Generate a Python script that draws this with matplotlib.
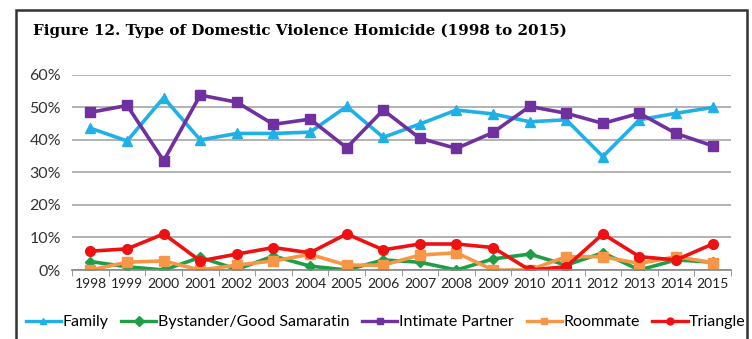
import numpy as np
import matplotlib.pyplot as plt
from matplotlib.patches import Rectangle
from matplotlib.ticker import FixedLocator

years = [str(y) for y in range(1998, 2016)]

family = [43.6, 39.7, 53.0, 40.0, 42.0, 42.0, 42.4, 50.3, 40.8, 44.9,
          49.2, 48.0, 45.6, 46.2, 34.9, 46.2, 48.2, 50.0]
bystander = [2.6, 1.0, 0.0, 3.9, 0.2, 4.3, 1.2, 0.0, 3.1, 2.4,
             0.0, 3.4, 4.9, 1.5, 5.3, 0.0, 3.1, 2.4]
intimate = [48.5, 50.6, 33.6, 53.8, 51.6, 44.8, 46.4, 37.6, 49.2, 40.5,
            37.4, 42.3, 50.3, 48.2, 45.1, 48.2, 42.0, 38.2]
roommate = [0.0, 2.4, 2.8, 0.0, 1.5, 2.8, 4.8, 1.5, 1.5, 4.6,
            5.3, 0.0, 0.0, 4.1, 4.1, 2.0, 4.1, 2.3]
triangle = [5.8, 6.5, 11.1, 2.8, 4.9, 6.9, 5.3, 11.1, 6.2, 8.0,
            8.0, 6.9, 0.0, 1.0, 11.1, 4.1, 3.1, 8.0]

series = [
    ('Family', family, '#1fb1e6', '^', 7),
    ('Bystander/Good Samaratin', bystander, '#1f9e48', 'D', 5),
    ('Intimate Partner', intimate, '#7030a0', 's', 7),
    ('Roommate', roommate, '#f79646', 's', 7),
    ('Triangle', triangle, '#ee1111', 'o', 7),
]

fig = plt.figure(figsize=(7.52, 3.39), dpi=100)
ax = fig.add_axes([0.096, 0.2035, 0.876, 0.5755])

x = np.arange(len(years))
for name, vals, col, mk, ms in series:
    ax.plot(x, vals, color=col, marker=mk, markersize=ms, lw=2.6, label=name)

ax.set_xlim(-0.5, len(years) - 0.5)
ax.set_ylim(0, 60)
ax.set_yticks(range(0, 61, 10))
ax.set_yticklabels([f'{v}%' for v in range(0, 61, 10)])
ax.set_xticks(x)
ax.set_xticklabels(years)
ax.xaxis.set_minor_locator(FixedLocator(np.arange(-0.5, len(years), 1)))
ax.tick_params(axis='x', which='major', length=0, pad=6, labelsize=10, colors='#222222')
ax.tick_params(axis='x', which='minor', length=4, color='#888888')
ax.tick_params(axis='y', length=0, pad=8, labelsize=11.5, colors='#333333')
ax.yaxis.grid(True, color='#a6a6a6', lw=1.2)
ax.set_axisbelow(True)
for s in ['left', 'right', 'top']:
    ax.spines[s].set_visible(False)
ax.spines['bottom'].set_color('#888888')
ax.spines['bottom'].set_linewidth(1.2)
for lab in ax.get_xticklabels() + ax.get_yticklabels():
    lab.set_family('Lato')

leg = fig.legend(loc='center', bbox_to_anchor=(0.513, 0.05), ncol=5, frameon=False,
                 handlelength=2.2, handletextpad=0.1, columnspacing=0.8,
                 prop={'family': 'Lato', 'size': 11.5})
for h in leg.legend_handles:
    h.set_markersize(5)
    h.set_linewidth(2.4)

fig.text(0.044, 0.91, 'Figure 12. Type of Domestic Violence Homicide (1998 to 2015)',
         family='DejaVu Serif', weight='bold', fontsize=10.9, va='center')

fig.patches.append(Rectangle((0.021, -0.05), 0.972, 1.02, transform=fig.transFigure,
                             fill=False, edgecolor='#333333', lw=1.8))

fig.savefig('out.png', dpi=100)
